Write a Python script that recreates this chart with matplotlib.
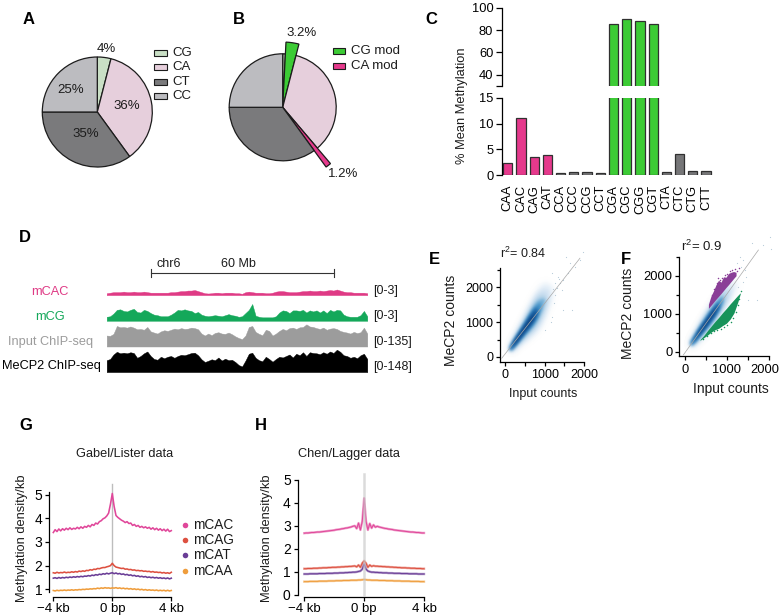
import numpy as np
import matplotlib
matplotlib.use("Agg")
import matplotlib.pyplot as plt
from matplotlib.patches import Rectangle
from matplotlib.transforms import ScaledTranslation

W, H = 781, 616

plt.rcParams.update({
    "font.family": ["Liberation Sans", "DejaVu Sans"],
    "font.size": 9.3, "axes.linewidth": 0.9,
    "xtick.major.width": 0.9, "ytick.major.width": 0.9,
    "xtick.minor.width": 0.9, "ytick.minor.width": 0.9,
    "xtick.major.size": 3, "ytick.major.size": 3,
    "xtick.minor.size": 3, "ytick.minor.size": 2.4,
    "xtick.major.pad": 2.5, "ytick.major.pad": 2,
    "mathtext.default": "regular",
})

INK = "#1c1c1c"
PINK, GREEN = "#e5398c", "#3ccb35"
GREY_BAR = "#767678"

# --- panels A / B
PIE_LABELS = ["CG", "CA", "CT", "CC"]
PIE_VALUES = [4, 36, 35, 25]
PIE_COLORS = ["#c9dfc5", "#e6cfdc", "#7a7a7c", "#bcbcc0"]
PIE_TEXT = ["4%", "36%", "35%", "25%"]
PIE_B_VALUES = [0.8, 3.2, 34.8, 1.2, 35, 25]
PIE_B_COLORS = ["#c9dfc5", GREEN, "#e6cfdc", PINK, "#7a7a7c", "#bcbcc0"]

# --- panel C
CONTEXTS = ["CAA", "CAC", "CAG", "CAT", "CCA", "CCC", "CCG", "CCT",
            "CGA", "CGC", "CGG", "CGT", "CTA", "CTC", "CTG", "CTT"]
METHYLATION = [2.4, 11.2, 3.6, 3.8, 0.4, 0.5, 0.5, 0.4,
               86, 90, 88, 85.5, 0.6, 4.1, 0.7, 0.7]
CONTEXT_COLORS = [PINK] * 4 + [GREY_BAR] * 4 + [GREEN] * 4 + [GREY_BAR] * 4

# --- panel D, read bin by bin off the browser tracks
TRACK_CAC = [0.2, 0.3, 0.4, 0.4, 0.4, 0.5, 0.4, 0.4, 0.5, 0.4, 0.4, 0.5, 0.4, 0.3, 0.3, 0.3,
             0.3, 0.3, 0.3, 0.4, 0.4, 0.5, 0.6, 0.6, 0.7, 0.7, 0.8, 0.6, 0.4, 0.2, 0.15, 0.2,
             0.3, 0.3, 0.2, 0.3, 0.3, 0.3, 0.2, 0.2, 0.1, 0.4, 0.5, 0.4, 0.3, 0.3, 0.3, 0.2,
             0.2, 0.3, 0.5, 0.6, 0.6, 0.5, 0.4, 0.4, 0.4, 0.5, 0.6, 0.6, 0.7, 0.6, 0.6, 0.7,
             0.6, 0.7, 0.8, 0.7, 0.9, 0.7, 0.5, 0.4, 0.4, 0.3, 0.3, 0.3, 0.3, 0.2]
TRACK_CG = [0.6, 0.7, 1.2, 1.9, 2.0, 1.7, 1.6, 1.9, 2.1, 1.5, 1.4, 1.9, 1.7, 1.3, 1.0, 0.9,
            0.7, 0.7, 0.7, 1.0, 1.4, 1.9, 1.8, 2.0, 1.8, 1.7, 1.3, 1.5, 1.0, 0.8, 0.7, 0.8,
            0.9, 0.8, 0.7, 0.9, 1.1, 0.9, 0.8, 0.6, 0.7, 1.3, 1.9, 3.0, 0.8, 0.6, 0.5, 0.5,
            0.5, 0.5, 0.7, 1.4, 1.8, 1.7, 1.3, 1.8, 1.8, 1.7, 1.9, 1.4, 1.8, 1.6, 1.8, 1.4,
            1.8, 1.3, 1.9, 1.6, 1.9, 1.8, 1.0, 0.7, 0.6, 0.6, 0.6, 0.9, 1.7, 0.7]
TRACK_INPUT = [60, 58, 70, 118, 110, 112, 108, 115, 108, 98, 100, 95, 112, 85, 78, 72,
               85, 92, 88, 95, 102, 98, 105, 100, 102, 108, 105, 98, 72, 60, 72, 62,
               76, 80, 72, 70, 78, 68, 55, 45, 38, 60, 112, 118, 82, 70, 62, 95,
               88, 60, 72, 88, 100, 92, 105, 108, 100, 110, 112, 128, 115, 112, 105, 100,
               108, 95, 102, 105, 100, 88, 82, 78, 72, 82, 75, 80, 108, 72]
TRACK_MECP2 = [72, 80, 110, 128, 118, 122, 118, 125, 120, 88, 100, 118, 130, 100, 80, 75,
               95, 85, 95, 100, 88, 100, 108, 105, 112, 120, 122, 105, 78, 60, 68, 78,
               72, 90, 70, 82, 72, 75, 60, 40, 30, 70, 115, 122, 88, 72, 65, 95,
               80, 62, 80, 95, 90, 100, 110, 90, 115, 105, 125, 100, 125, 120, 118, 112,
               125, 115, 130, 120, 142, 128, 105, 100, 88, 95, 85, 105, 115, 80]

# --- panels E / F: density ridge, half widths per contour level
E_RIDGE_X = [120, 200, 300, 400, 500, 600, 700, 800, 900, 1000, 1100, 1200]
E_RIDGE_Y = [240, 370, 530, 690, 850, 1010, 1170, 1330, 1490, 1650, 1790, 1900]
E_HALF = [[100, 185, 250, 320, 395, 470, 540, 590, 590, 500, 320, 110],
          [85, 150, 205, 260, 320, 385, 440, 470, 440, 330, 140, 0],
          [70, 125, 170, 215, 260, 315, 360, 370, 300, 150, 0, 0],
          [58, 105, 140, 175, 210, 255, 290, 285, 190, 40, 0, 0],
          [46, 85, 115, 140, 170, 205, 225, 200, 90, 0, 0, 0],
          [34, 68, 90, 110, 130, 160, 175, 135, 0, 0, 0, 0],
          [20, 50, 68, 82, 95, 115, 125, 75, 0, 0, 0, 0],
          [0, 28, 44, 54, 62, 75, 75, 0, 0, 0, 0, 0]]
F_RIDGE_X = [130, 200, 300, 400, 500, 600, 700, 800, 900, 1000, 1100, 1240]
F_RIDGE_Y = [215, 310, 465, 620, 770, 925, 1080, 1235, 1390, 1545, 1660, 1800]
F_HALF = [[95, 150, 205, 250, 285, 310, 325, 335, 320, 270, 200, 70],
          [80, 125, 175, 215, 250, 270, 285, 290, 260, 190, 90, 0],
          [66, 105, 150, 185, 215, 235, 245, 235, 180, 90, 0, 0],
          [52, 88, 125, 155, 180, 195, 200, 180, 110, 0, 0, 0],
          [38, 70, 100, 125, 145, 155, 155, 130, 40, 0, 0, 0],
          [24, 52, 76, 95, 110, 118, 115, 85, 0, 0, 0, 0],
          [0, 32, 54, 66, 76, 82, 80, 40, 0, 0, 0, 0],
          [0, 0, 30, 38, 44, 48, 46, 0, 0, 0, 0, 0]]
BLUES = ["#e6f0f9", "#cfe1f2", "#a9cde5", "#74b0d8", "#4190c6", "#2470b3", "#125496", "#0c3f7c"]
E_SPARSE_X = [1179, 1263, 1389, 1473, 1599, 1641, 1431, 1263, 1237, 1179, 1153, 1473, 1683, 1894, 1978, 1768, 1347, 1540, 1010, 1300, 1220, 1360]
E_SPARSE_Y = [2405, 2117, 2117, 2213, 2405, 2692, 1925, 1782, 1542, 1159, 1015, 1351, 1351, 2787, 3027, 2596, 2309, 2883, 776, 1990, 1950, 2240]
F_SPARSE_X = [1237, 1396, 1316, 1593, 2033, 1873, 2049, 1396, 1515, 1730, 1277, 1460, 1340, 1430]
F_SPARSE_Y = [2326, 2414, 2500, 2851, 3027, 2807, 2694, 1843, 1360, 1360, 1711, 1974, 2230, 2150]
PURPLE_X = [560, 620, 680, 740, 800, 860, 920, 980, 1040, 1100, 1160, 1220]
PURPLE_LO = [1140, 1220, 1300, 1380, 1455, 1530, 1610, 1690, 1765, 1845, 1925, 2000]
PURPLE_HI = [1250, 1460, 1600, 1760, 1880, 1830, 1970, 1960, 2060, 2090, 2110, 2090]
PURPLE_DOT_X = [640, 700, 760, 790, 830, 880, 950, 1010, 1070, 1130, 1190, 1250, 1290]
PURPLE_DOT_Y = [1480, 1640, 1800, 1930, 1900, 1930, 2010, 2040, 2120, 2150, 2170, 2130, 2190]
GREEN_X = [360, 450, 540, 630, 720, 810, 900, 990, 1080, 1170, 1260, 1320]
GREEN_HI = [320, 430, 560, 680, 800, 910, 1030, 1140, 1260, 1370, 1480, 1550]
GREEN_LO = [300, 370, 440, 520, 580, 620, 690, 750, 860, 1020, 1300, 1520]
GREEN_DOT_X = [420, 520, 610, 700, 770, 860, 930, 1010, 1090, 1150, 1210, 1270, 1300, 1340]
GREEN_DOT_Y = [330, 410, 490, 550, 570, 610, 650, 710, 790, 900, 1050, 1220, 1400, 1600]

# --- panels G / H: profile around the peak, -4 kb to +4 kb
G_CAC = [3.40, 3.52, 3.44, 3.55, 3.47, 3.56, 3.50, 3.58, 3.52, 3.60, 3.53, 3.58, 3.55, 3.62, 3.56, 3.64,
         3.58, 3.66, 3.62, 3.70, 3.64, 3.74, 3.70, 3.80, 3.76, 3.86, 3.90, 3.98, 4.02, 4.10, 4.22, 4.60, 5.05,
         4.50, 4.12, 4.04, 3.98, 3.92, 3.88, 3.82, 3.86, 3.78, 3.80, 3.70, 3.74, 3.66, 3.70, 3.62, 3.66,
         3.60, 3.64, 3.58, 3.62, 3.54, 3.60, 3.52, 3.58, 3.50, 3.56, 3.48, 3.54, 3.46, 3.54, 3.44, 3.48]
G_CAG = [1.70, 1.68, 1.72, 1.69, 1.71, 1.70, 1.73, 1.70, 1.72, 1.71, 1.74, 1.72, 1.75, 1.73, 1.77, 1.75,
         1.78, 1.76, 1.80, 1.79, 1.83, 1.81, 1.85, 1.84, 1.88, 1.87, 1.90, 1.92, 1.92, 1.95, 1.97, 2.00, 2.10,
         2.00, 1.94, 1.92, 1.90, 1.88, 1.89, 1.85, 1.86, 1.83, 1.84, 1.81, 1.82, 1.79, 1.80, 1.78, 1.79,
         1.76, 1.77, 1.75, 1.76, 1.73, 1.75, 1.72, 1.73, 1.71, 1.72, 1.69, 1.71, 1.68, 1.70, 1.67, 1.72]
G_CAT = [1.47, 1.49, 1.46, 1.50, 1.47, 1.50, 1.48, 1.51, 1.49, 1.52, 1.50, 1.53, 1.51, 1.54, 1.52, 1.55,
         1.53, 1.56, 1.55, 1.58, 1.56, 1.60, 1.58, 1.62, 1.60, 1.64, 1.62, 1.66, 1.64, 1.68, 1.65, 1.68, 1.70,
         1.66, 1.69, 1.65, 1.67, 1.63, 1.65, 1.61, 1.63, 1.59, 1.61, 1.57, 1.59, 1.55, 1.57, 1.53, 1.55,
         1.52, 1.54, 1.50, 1.52, 1.49, 1.51, 1.48, 1.50, 1.47, 1.49, 1.46, 1.48, 1.45, 1.48, 1.44, 1.47]
G_CAA = [0.95, 0.93, 0.96, 0.94, 0.96, 0.95, 0.97, 0.95, 0.97, 0.96, 0.98, 0.96, 0.98, 0.97, 0.99, 0.98,
         1.00, 0.99, 1.01, 1.00, 1.02, 1.01, 1.03, 1.02, 1.05, 1.03, 1.06, 1.04, 1.07, 1.05, 1.06, 1.04, 1.06,
         1.05, 1.07, 1.04, 1.06, 1.03, 1.05, 1.02, 1.04, 1.01, 1.03, 1.00, 1.02, 0.99, 1.01, 0.98, 1.00,
         0.97, 0.99, 0.96, 0.98, 0.96, 0.97, 0.95, 0.97, 0.94, 0.96, 0.94, 0.96, 0.93, 0.96, 0.93, 0.95]
H_CAC = [2.68, 2.69, 2.69, 2.70, 2.71, 2.71, 2.72, 2.73, 2.73, 2.74, 2.75, 2.76, 2.77, 2.78, 2.79, 2.80,
         2.81, 2.83, 2.84, 2.85, 2.87, 2.88, 2.90, 2.91, 2.93, 2.95, 2.98, 3.00, 2.88, 3.12, 2.82, 3.20, 4.20,
         3.20, 2.82, 3.10, 2.90, 3.04, 2.94, 2.98, 2.95, 2.93, 2.91, 2.89, 2.88, 2.86, 2.85, 2.84, 2.82,
         2.81, 2.80, 2.79, 2.78, 2.77, 2.76, 2.75, 2.74, 2.73, 2.73, 2.72, 2.71, 2.71, 2.70, 2.69, 2.69]
H_CAG = [1.14, 1.14, 1.15, 1.15, 1.15, 1.16, 1.16, 1.16, 1.17, 1.17, 1.18, 1.18, 1.18, 1.19, 1.19, 1.20,
         1.20, 1.20, 1.21, 1.21, 1.22, 1.22, 1.23, 1.23, 1.24, 1.24, 1.25, 1.26, 1.22, 1.30, 1.20, 1.38, 1.48,
         1.38, 1.20, 1.30, 1.24, 1.27, 1.25, 1.25, 1.24, 1.24, 1.23, 1.23, 1.22, 1.22, 1.21, 1.21, 1.20,
         1.20, 1.19, 1.19, 1.18, 1.18, 1.18, 1.17, 1.17, 1.16, 1.16, 1.16, 1.15, 1.15, 1.15, 1.14, 1.14]
H_CAT = [0.91, 0.91, 0.91, 0.92, 0.92, 0.92, 0.92, 0.92, 0.93, 0.93, 0.93, 0.93, 0.94, 0.94, 0.94, 0.94,
         0.95, 0.95, 0.95, 0.96, 0.96, 0.96, 0.97, 0.97, 0.98, 0.98, 0.99, 0.99, 1.00, 1.02, 1.04, 1.12, 1.34,
         1.12, 1.04, 1.01, 0.99, 0.99, 0.98, 0.98, 0.97, 0.97, 0.96, 0.96, 0.96, 0.95, 0.95, 0.95, 0.94,
         0.94, 0.94, 0.94, 0.93, 0.93, 0.93, 0.93, 0.92, 0.92, 0.92, 0.92, 0.92, 0.91, 0.91, 0.91, 0.91]
H_CAA = [0.58, 0.58, 0.58, 0.59, 0.59, 0.59, 0.59, 0.59, 0.60, 0.60, 0.60, 0.60, 0.60, 0.61, 0.61, 0.61,
         0.61, 0.62, 0.62, 0.62, 0.62, 0.63, 0.63, 0.63, 0.63, 0.64, 0.64, 0.64, 0.64, 0.65, 0.65, 0.66, 0.67,
         0.66, 0.65, 0.65, 0.64, 0.64, 0.64, 0.64, 0.63, 0.63, 0.63, 0.63, 0.62, 0.62, 0.62, 0.62, 0.61,
         0.61, 0.61, 0.61, 0.60, 0.60, 0.60, 0.60, 0.60, 0.59, 0.59, 0.59, 0.59, 0.59, 0.58, 0.58, 0.58]
PROFILE_NAMES = ["mCAC", "mCAG", "mCAT", "mCAA"]
PROFILE_COLORS = ["#e0479a", "#dd5040", "#6a3d96", "#ef9d3c"]


def add_ax(fig, x0, y0, x1, y1):
    """Axes placed by its pixel box, y measured from the top of the picture."""
    return fig.add_axes([x0 / W, 1 - y1 / H, (x1 - x0) / W, (y1 - y0) / H])


def hide(ax, *sides):
    for sp in sides:
        ax.spines[sp].set_visible(False)


def soft_edge(color, r=2):
    """agg_filter: blur the alpha of a single-colour patch."""
    rgb = matplotlib.colors.to_rgb(color)

    def run(img, dpi):
        pad = 3 * r + 2
        alpha = np.pad(img[:, :, 3], pad)
        kernel = np.ones(2 * r + 1) / (2 * r + 1)
        for _ in range(2):
            alpha = np.apply_along_axis(np.convolve, 0, alpha, kernel, mode="same")
            alpha = np.apply_along_axis(np.convolve, 1, alpha, kernel, mode="same")
        out = np.zeros(alpha.shape + (4,))
        out[:, :, :3] = rgb
        out[:, :, 3] = alpha
        return out, -pad, -pad
    return run


def pie_panel(fig, cx, cy, r, values, colors):
    box = 1.6 * r
    ax = add_ax(fig, cx - box, cy - box, cx + box, cy + box)
    wedges, _ = ax.pie(values, colors=colors, startangle=90, counterclock=False,
                       wedgeprops={"edgecolor": INK, "linewidth": 0.9})
    ax.set_xlim(-1.6, 1.6)
    ax.set_ylim(-1.6, 1.6)
    return wedges


def density_panel(ax, ridge_x, ridge_y, half_widths):
    rx, ry = np.array(ridge_x, float), np.array(ridge_y, float)
    for i, (hw, col) in enumerate(zip(half_widths, BLUES)):
        hw = np.array(hw, float)
        m = hw > 0
        coll = ax.fill_between(rx[m], ry[m] - hw[m], ry[m] + hw[m], color=col, lw=0, zorder=1)
        coll.set_agg_filter(soft_edge(col, 2 if i < 3 else 1))


def count_axes(ax, xlim, ylim):
    ax.set_xlim(*xlim)
    ax.set_ylim(*ylim)
    ax.set_xticks([0, 1000, 2000])
    ax.set_yticks([0, 1000, 2000])
    ax.set_xticks([500, 1500], minor=True)
    ax.set_yticks([500, 1500, 2500], minor=True)
    hide(ax, "top", "right")
    ax.patch.set_alpha(0)


def profile_panel(ax, series, ylim, yticks, lw, halo=False):
    xs = np.linspace(-4, 4, len(series[0]))
    for vals, col in zip(series, PROFILE_COLORS):
        if halo:
            ax.plot(xs, vals, color=col, lw=lw * 1.7, alpha=0.55, clip_on=False)
            ax.plot(xs, vals, color=col, lw=lw * 0.7, clip_on=False)
        else:
            ax.plot(xs, vals, color=col, lw=lw, clip_on=False)
    ax.set_xlim(-4, 4)
    ax.set_ylim(*ylim)
    ax.set_xticks([-4, 0, 4])
    ax.set_xticklabels(["\u22124 kb", "0 bp", "4 kb"])
    ax.set_yticks(yticks)
    ax.tick_params(axis="y", labelsize=10, pad=2)
    ax.tick_params(axis="x", labelsize=9.5, pad=1.5)
    hide(ax, "top", "right")
    ax.patch.set_alpha(0)


def main():
    fig = plt.figure(figsize=(W / 100, H / 100), dpi=100)

    # A
    pie_panel(fig, 97.3, 112, 55, PIE_VALUES, PIE_COLORS)

    # B - the two modified wedges stick out of the pie
    w = pie_panel(fig, 282.7, 107.3, 53.5, PIE_B_VALUES, PIE_B_COLORS)
    w[1].set_radius(1.22)
    w[3].set_radius(1.38)

    # C - broken y axis
    xlim = (-0.454, 15.68)
    top = add_ax(fig, 501.7, 8, 715, 85.8)
    low = add_ax(fig, 501.7, 98, 715, 175)
    for ax in (top, low):
        ax.bar(range(len(CONTEXTS)), METHYLATION, width=0.7, color=CONTEXT_COLORS,
               edgecolor="#303030", linewidth=0.9)
        ax.set_xlim(*xlim)
        hide(ax, "top", "right", "bottom")
        ax.tick_params(axis="y", length=4, labelsize=9.3)
        ax.patch.set_alpha(0)
    top.set_ylim(30, 100)
    top.set_yticks([30, 40, 60, 80, 100])
    top.set_yticklabels(["", "40", "60", "80", "100"])
    top.set_xticks([])
    low.set_ylim(0, 15)
    low.set_yticks([0, 5, 10, 15])
    low.set_xticks(range(len(CONTEXTS)))
    low.set_xticklabels(CONTEXTS, rotation=90, fontsize=9.3)
    low.tick_params(axis="x", length=0, pad=7)

    # D
    tracks = [(TRACK_CAC, 3, 294.3, "#df3a85"), (TRACK_CG, 3, 320, "#14a85a"),
              (TRACK_INPUT, 135, 345.7, "#9c9c9c"), (TRACK_MECP2, 148, 371.3, "#000000")]
    for vals, vmax, base, col in tracks:
        h = 16 if vmax == 3 else 22.5
        ax = add_ax(fig, 106.7, base - h, 367.3, base + 0.8)
        ax.fill_between(np.arange(len(vals)), -0.05 * vmax, vals, color=col, lw=0.3)
        ax.set_xlim(0, len(vals) - 1)
        ax.set_ylim(-0.05 * vmax, vmax)
        ax.axis("off")

    # E
    ax_e = add_ax(fig, 500, 268, 584.3, 361.7)
    density_panel(ax_e, E_RIDGE_X, E_RIDGE_Y, E_HALF)
    ax_e.scatter(E_SPARSE_X, E_SPARSE_Y, s=0.7, color="#b5c9d8", lw=0, clip_on=False, zorder=2)
    ax_e.plot([-83, 1890], [-37, 2836], color="#a8a8a8", lw=0.5, clip_on=False, zorder=3)
    count_axes(ax_e, (-126, 2000), (-135, 2555))
    ax_e.tick_params(labelsize=9)

    # F
    ax_f = add_ax(fig, 679.3, 256.7, 768.7, 356)
    density_panel(ax_f, F_RIDGE_X, F_RIDGE_Y, F_HALF)
    ax_f.fill_between(PURPLE_X, PURPLE_LO, PURPLE_HI, color="#8a3f97", lw=0, zorder=2)
    ax_f.scatter(PURPLE_DOT_X, PURPLE_DOT_Y, s=1.2, color="#8a3f97", lw=0, zorder=2)
    ax_f.fill_between(GREEN_X, GREEN_LO, GREEN_HI, color="#17935a", lw=0, zorder=2)
    ax_f.scatter(GREEN_DOT_X, GREEN_DOT_Y, s=1.2, color="#17935a", lw=0, zorder=2)
    ax_f.scatter(F_SPARSE_X, F_SPARSE_Y, s=0.7, color="#b5c9d8", lw=0, clip_on=False, zorder=2)
    ax_f.plot([-40, 1754], [-87, 2676], color="#a8a8a8", lw=0.5, clip_on=False, zorder=3)
    count_axes(ax_f, (-136, 2000), (-113, 2500))
    ax_f.tick_params(labelsize=9.3)
    # the last tick label sits hard against the picture edge
    last = ax_f.get_xticklabels()[-1]
    last.set_transform(last.get_transform() + ScaledTranslation(-3 / 72, 0, fig.dpi_scale_trans))

    # G
    ax_g = add_ax(fig, 53.3, 492.3, 171.3, 592)
    ax_g.axvline(0, ymin=-0.05, ymax=1.08, color="#bdbdbd", lw=1.0, clip_on=False, zorder=1)
    profile_panel(ax_g, [G_CAC, G_CAG, G_CAT, G_CAA], (0.886, 5.1), [1, 2, 3, 4, 5], 1.15)
    ax_g.spines["left"].set_position(("outward", 3))
    ax_g.spines["bottom"].set_position(("outward", 3.7))

    # H
    ax_h = add_ax(fig, 304.3, 479.7, 424, 595)
    profile_panel(ax_h, [H_CAC, H_CAG, H_CAT, H_CAA], (0, 5), [0, 1, 2, 3, 4, 5], 1.0, halo=True)
    ax_h.axvline(0, ymin=0, ymax=1.05, color="#c8c8c8", lw=1.8, alpha=0.65, clip_on=False, zorder=5)
    ax_h.spines["left"].set_position(("outward", 4.8))
    ax_h.spines["bottom"].set_position(("outward", 1.2))

    # everything placed by pixel: letters, legends, labels
    px = fig.add_axes([0, 0, 1, 1], zorder=10)
    px.set_xlim(0, W)
    px.set_ylim(H, 0)
    px.axis("off")

    def label(x, y, s, **kw):
        kw.setdefault("ha", "center")
        kw.setdefault("va", "center")
        kw.setdefault("color", INK)
        px.text(x, y, s, **kw)

    letters = {"A": (29, 20), "B": (239, 20), "C": (431, 20), "D": (25, 238),
               "E": (434, 259), "F": (626, 259), "G": (26, 425), "H": (261, 425)}
    for k, (x, y) in letters.items():
        label(x, y, k, fontsize=12, fontweight="bold", color="black")

    for (x, y), s in zip([(106.7, 49), (126.3, 106), (85.7, 134), (71, 90)], PIE_TEXT):
        label(x, y, s, fontsize=9.5)
    for y, name, col in zip([52.7, 67.3, 81.7, 96.3], PIE_LABELS, PIE_COLORS):
        px.add_patch(Rectangle((154, y - 3), 12.5, 6, facecolor=col, edgecolor=INK, lw=0.8))
        label(172.7, y, name, ha="left", fontsize=9.5)
    label(301.7, 33.3, "3.2%", fontsize=9.5)
    label(343, 173.7, "1.2%", fontsize=9.5)
    for y, name, col in zip([50.7, 66.3], ["CG mod", "CA mod"], [GREEN, PINK]):
        px.add_patch(Rectangle((332.7, y - 3), 12.5, 6, facecolor=col, edgecolor=INK, lw=0.8))
        label(351, y, name, ha="left", fontsize=9.5)

    label(461.7, 106, "% Mean Methylation", rotation=90, fontsize=9.3)

    px.plot([150.7, 334.3], [272.7, 272.7], color="#333333", lw=0.8)
    for x in (150.7, 334.3):
        px.plot([x, x], [268.7, 276.7], color="#333333", lw=0.8)
    label(168.3, 264.3, "chr6", fontsize=9)
    label(238.3, 264.3, "60 Mb", fontsize=9)
    for y, s in zip([291.3, 316, 341.7, 367], ["[0-3]", "[0-3]", "[0-135]", "[0-148]"]):
        label(372.7, y, s, ha="left", fontsize=9)
    label(50, 292.3, "mCAC", fontsize=9.2, color="#df3a85")
    label(50, 316.7, "mCG", fontsize=9.2, color="#14a85a")
    label(51, 341.7, "Input ChIP-seq", fontsize=9.2, color="#9c9c9c")
    label(51, 366, "MeCP2 ChIP-seq", fontsize=9.2, color="black")

    label(500, 253.3, "r$^{2}$= 0.84", ha="left", fontsize=9)
    label(680.7, 246.7, "r$^{2}$= 0.9", ha="left", fontsize=9.5)
    label(543.3, 394, "Input counts", fontsize=9)
    label(731, 389, "Input counts", fontsize=10)
    label(450.7, 320, "MeCP2 counts", rotation=90, fontsize=10)
    label(628.3, 313.3, "MeCP2 counts", rotation=90, fontsize=10)

    label(124.3, 454.3, "Gabel/Lister data", fontsize=9.2)
    label(349.3, 454.3, "Chen/Lagger data", fontsize=9.2)
    label(21.7, 538, "Methylation density/kb", rotation=90, fontsize=9.3)
    label(267.3, 538, "Methylation density/kb", rotation=90, fontsize=9.3)
    for y, name, col in zip([524.7, 539.7, 555, 571], PROFILE_NAMES, PROFILE_COLORS):
        px.scatter([185], [y], s=16, color=col, lw=0)
        label(192.7, y, name, ha="left", fontsize=9.8)

    fig.savefig("out.png", dpi=100)
    plt.close(fig)


if __name__ == "__main__":
    main()
